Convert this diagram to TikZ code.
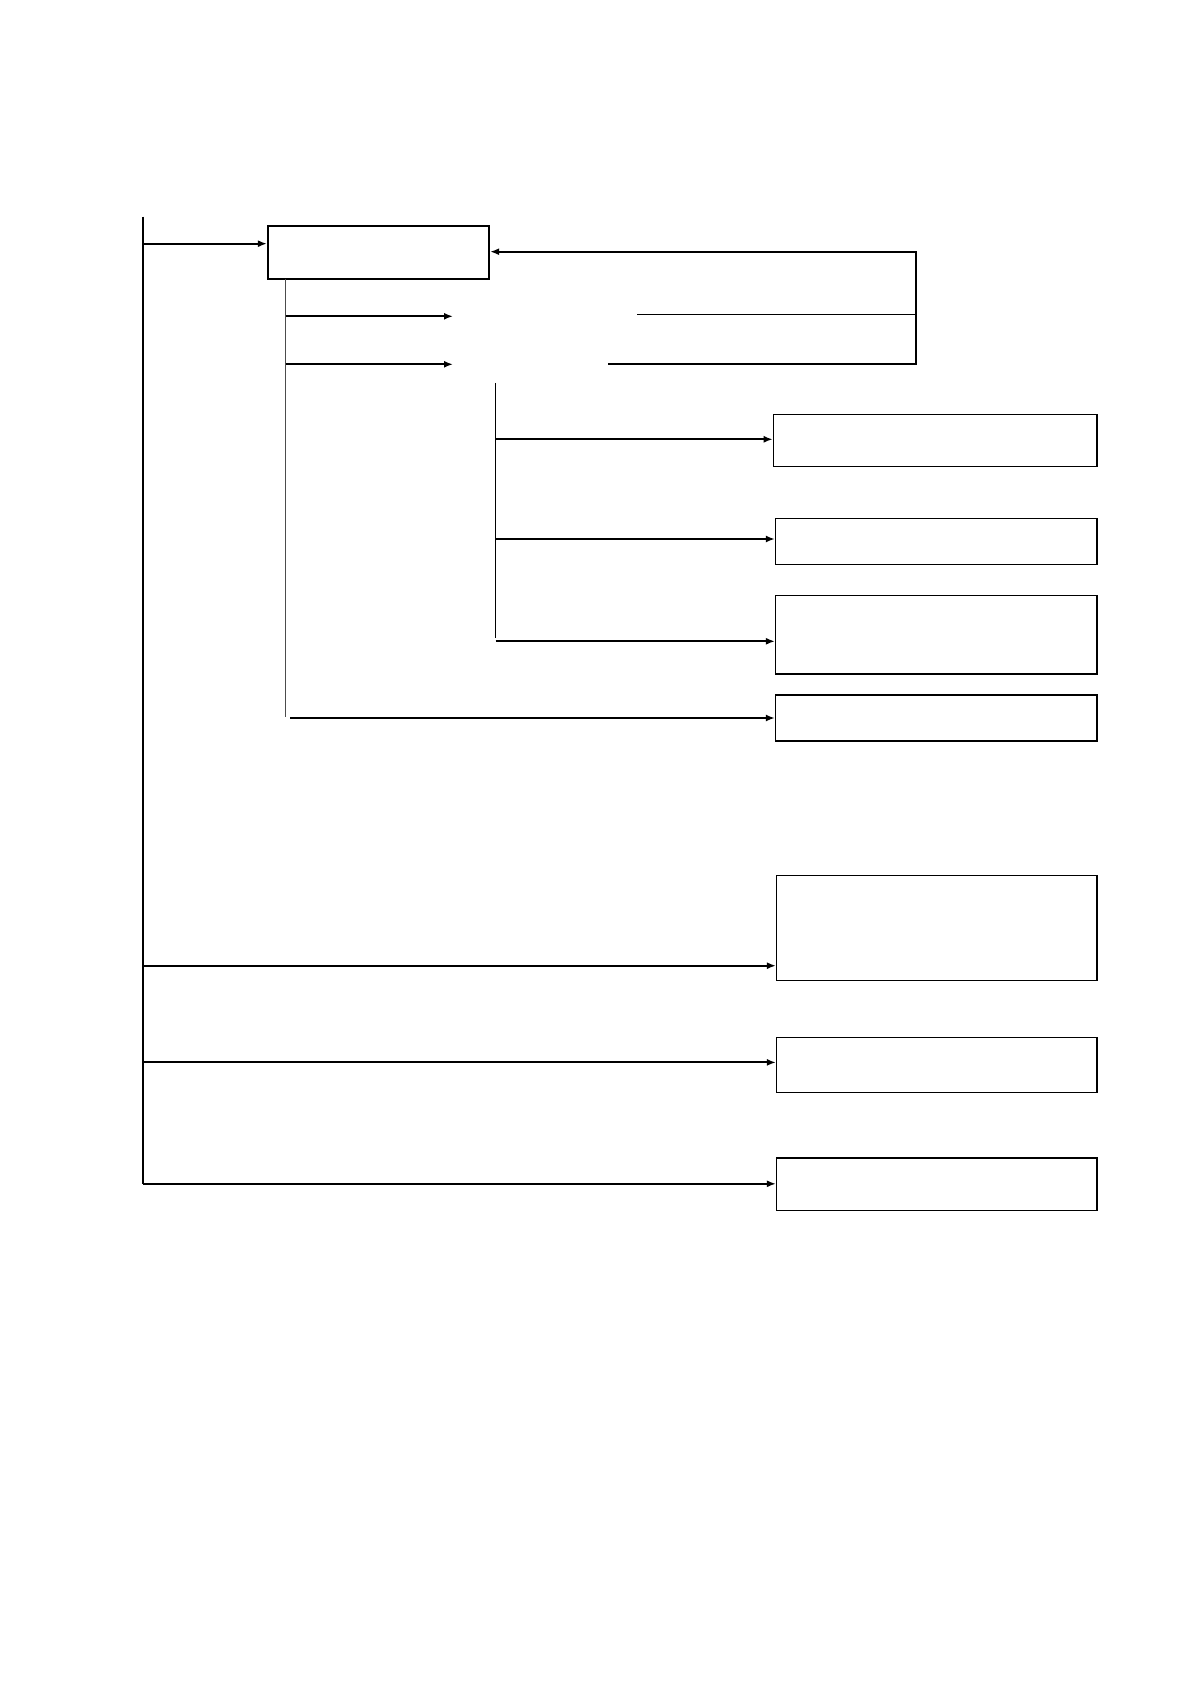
\documentclass[tikz,border=0pt]{standalone}
\usetikzlibrary{arrows.meta}
\begin{document}
\begin{tikzpicture}[x=0.5pt, y=-0.5pt, >={Latex[length=4.5pt,width=3.5pt]}]
\useasboundingbox (0,0) rectangle (1191,1684);
\tikzset{box/.style={draw, rectangle, line width=0.7pt, inner sep=0pt}}
\node[box, line width=1.1pt, minimum width=110.5pt, minimum height=26.7pt] (boxA) at (378.5,252.4){};
\node[box, minimum width=161.7pt, minimum height=25.8pt] (boxB1) at (935.1,440.5){};
\node[box, minimum width=160.6pt, minimum height=22.8pt] (boxB2) at (936.2,541.5){};
\node[box, minimum width=160.6pt, minimum height=39.2pt] (boxB3) at (936.2,634.9){};
\node[box, minimum width=160.6pt, minimum height=23pt] (boxB4) at (936.2,718){};
\node[box, minimum width=160.1pt, minimum height=52.6pt] (boxC1) at (936.7,928.1){};
\node[box, minimum width=160.1pt, minimum height=27.4pt] (boxC2) at (936.7,1065.1){};
\node[box, minimum width=160.1pt, minimum height=26.3pt] (boxC3) at (936.7,1184.3){};
% main trunk
\coordinate (top0) at (142.9,216.7);
\coordinate (tA) at (142.9,243.7);
\coordinate (tC1) at (142.9,965.7);
\coordinate (tC2) at (142.9,1062.4);
\coordinate (tC3) at (142.9,1183.8);
\draw[line width=1pt] (top0) -- (tC3);
\draw[->, line width=1pt] (tA) -- (tA -| boxA.west);
\draw[->, line width=1pt] (tC1) -- (tC1 -| boxC1.west);
\draw[->, line width=1pt] (tC2) -- (tC2 -| boxC2.west);
\draw[->, line width=1pt] (tC3) -- (tC3 -| boxC3.west);
% sub trunk
\coordinate (s0) at (285.5,279);
\coordinate (s1) at (285.5,316.3);
\coordinate (s2) at (285.5,364.3);
\coordinate (s3) at (285.5,716.7);
\coordinate (s4) at (290,718);
\coordinate (e1) at (453,316.3);
\coordinate (e2) at (453,364.3);
\draw[line width=0.6pt, black!70] (s0) -- (s3);
\draw[->, line width=1pt] (s1) -- (e1);
\draw[->, line width=1pt] (s2) -- (e2);
\draw[->, line width=1pt] (s4) -- (s4 -| boxB4.west);
% third trunk
\coordinate (u0) at (495.5,383);
\coordinate (u1) at (495.5,439.3);
\coordinate (u2) at (495.5,539);
\coordinate (u3) at (495.5,641.3);
\draw[line width=0.6pt] (u0) -- (495.5,637.7);
\draw[->, line width=1pt] (u1) -- (u1 -| boxB1.west);
\draw[->, line width=1pt] (u2) -- (u2 -| boxB2.west);
\draw[->, line width=1pt] (u3) -- (u3 -| boxB3.west);
% feedback
\coordinate (f0) at (608,363.7);
\coordinate (f1) at (916.3,363.7);
\coordinate (f2) at (916.3,251.7);
\coordinate (g0) at (637,314.3);
\coordinate (g1) at (916.3,314.3);
\draw[->, line width=1pt] (f0) -- (f1) -- (f2) -- (f2 -| boxA.east);
\draw[line width=0.6pt] (g0) -- (g1);
\end{tikzpicture}
\end{document}
